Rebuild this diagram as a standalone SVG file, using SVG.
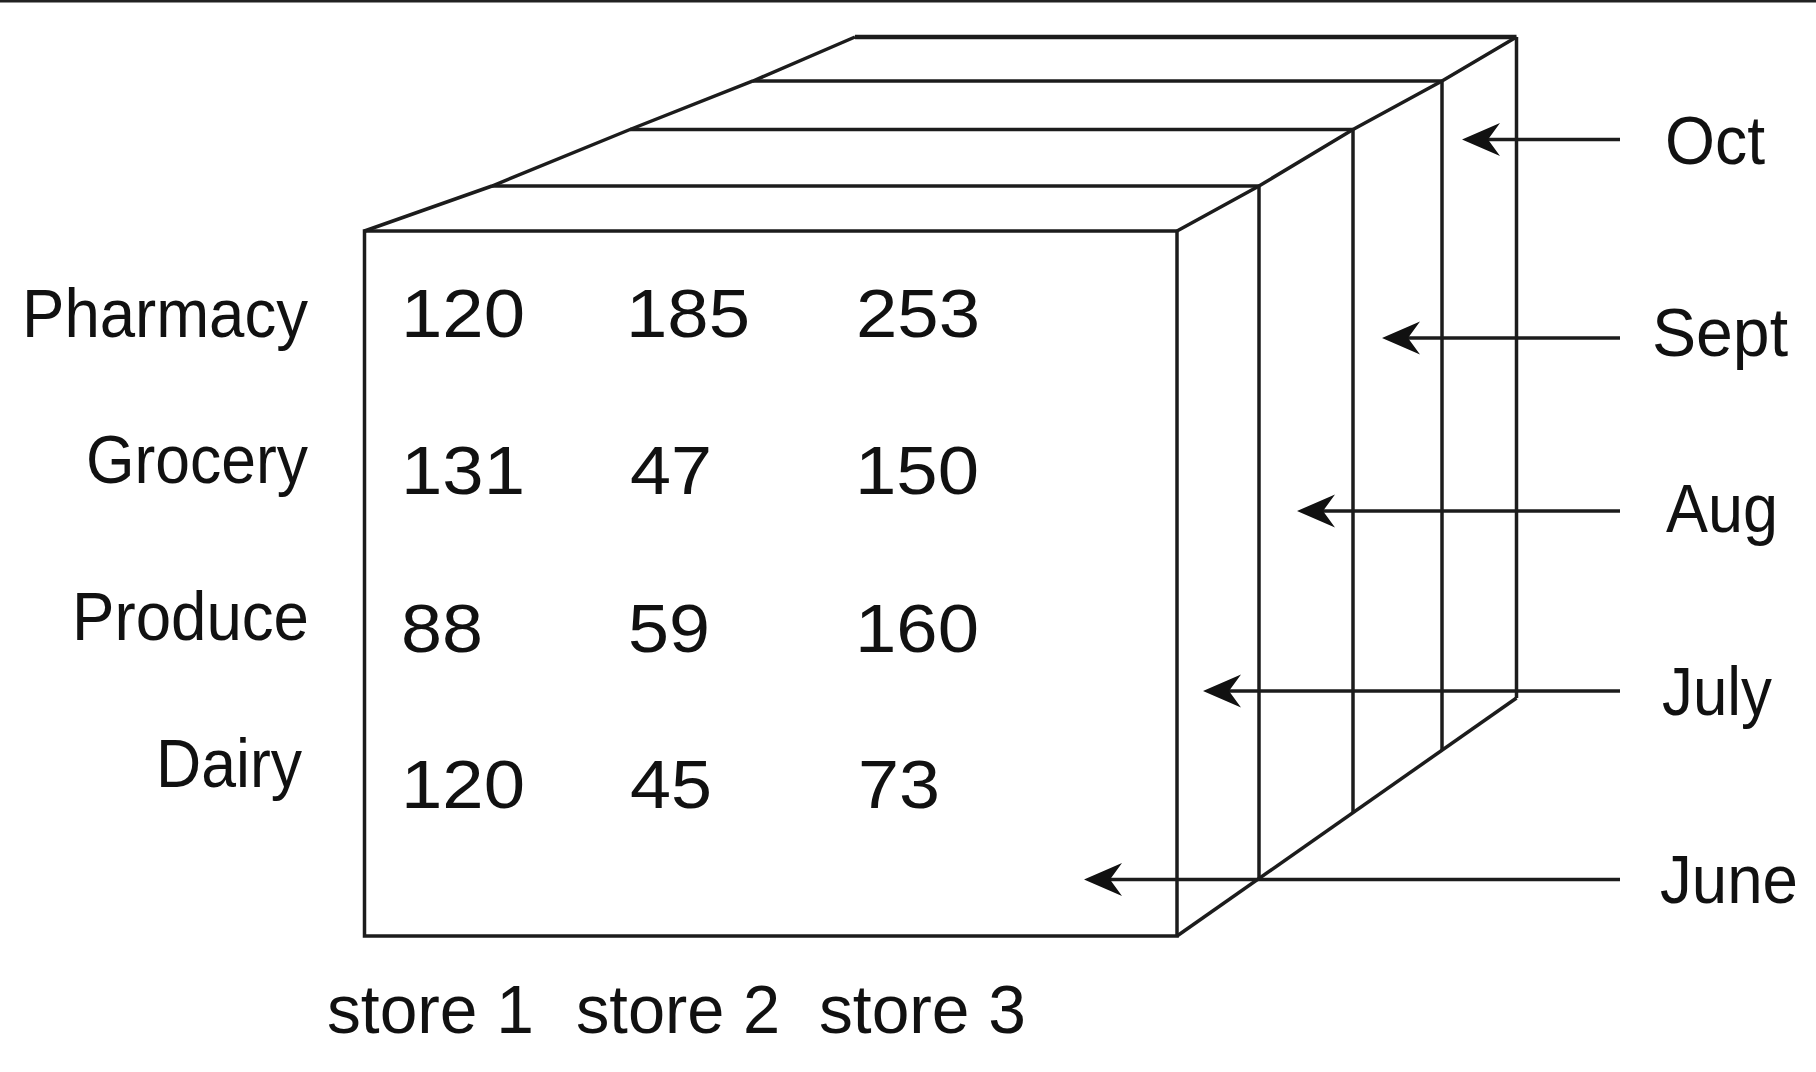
<svg xmlns="http://www.w3.org/2000/svg" width="1816" height="1072" viewBox="0 0 1816 1072">
  <style>
    .edge { fill: none; stroke: #1c1c1c; stroke-width: 3.5; stroke-linejoin: miter; }
    .thick { stroke-width: 4.5; }
    .arrow { fill: none; stroke: #1c1c1c; stroke-width: 3.5; marker-end: url(#head); }
    text { font-family: "Liberation Sans", Arial, sans-serif; font-size: 68px; fill: #111; }
  </style>
  <defs>
    <marker id="head" markerUnits="userSpaceOnUse" orient="auto" refX="0" refY="0" markerWidth="60" markerHeight="40" overflow="visible">
      <path d="M26,0 L-12,-16.5 L0,0 L-12,16.5 Z" fill="#111"/>
    </marker>
  </defs>
  <rect x="0" y="0" width="1816" height="2.5" fill="#222"/>

  <g id="cube">
    <!-- front face -->
    <rect class="edge" x="364.5" y="231" width="812.5" height="705"/>
    <!-- top slices -->
    <polyline class="edge" points="364.5,231 492,186 630,129.5 753,81 855,37"/>
    <line class="edge thick" x1="855" y1="37" x2="1516.5" y2="37"/>
    <line class="edge" x1="753" y1="81" x2="1442" y2="81"/>
    <line class="edge" x1="630" y1="129.5" x2="1353" y2="129.5"/>
    <line class="edge" x1="492" y1="186" x2="1259" y2="186"/>
    <!-- right side -->
    <polyline class="edge" points="1177,231 1259,186 1353,129.5 1442,81 1516.5,37"/>
    <line class="edge" x1="1259" y1="186" x2="1259" y2="879"/>
    <line class="edge" x1="1353" y1="129.5" x2="1353" y2="812"/>
    <line class="edge" x1="1442" y1="81" x2="1442" y2="750"/>
    <line class="edge" x1="1516.5" y1="37" x2="1516.5" y2="698"/>
    <line class="edge" x1="1177" y1="936" x2="1516.5" y2="698"/>
  </g>

  <g id="row-labels">
    <text id="lbl-pharmacy" x="22" y="337" textLength="286" lengthAdjust="spacingAndGlyphs">Pharmacy</text>
    <text id="lbl-grocery" x="86" y="483" textLength="222" lengthAdjust="spacingAndGlyphs">Grocery</text>
    <text id="lbl-produce" x="72" y="640" textLength="237" lengthAdjust="spacingAndGlyphs">Produce</text>
    <text id="lbl-dairy" x="156" y="787" textLength="146" lengthAdjust="spacingAndGlyphs">Dairy</text>
  </g>

  <g id="values">
    <text x="401" y="337" textLength="124" lengthAdjust="spacingAndGlyphs">120</text>
    <text x="626" y="337" textLength="124" lengthAdjust="spacingAndGlyphs">185</text>
    <text x="856" y="337" textLength="124" lengthAdjust="spacingAndGlyphs">253</text>
    <text x="401" y="494" textLength="124" lengthAdjust="spacingAndGlyphs">131</text>
    <text x="630" y="494" textLength="82" lengthAdjust="spacingAndGlyphs">47</text>
    <text x="855" y="494" textLength="124" lengthAdjust="spacingAndGlyphs">150</text>
    <text x="401" y="652" textLength="82" lengthAdjust="spacingAndGlyphs">88</text>
    <text x="628" y="652" textLength="82" lengthAdjust="spacingAndGlyphs">59</text>
    <text x="855" y="652" textLength="124" lengthAdjust="spacingAndGlyphs">160</text>
    <text x="401" y="808" textLength="124" lengthAdjust="spacingAndGlyphs">120</text>
    <text x="630" y="808" textLength="82" lengthAdjust="spacingAndGlyphs">45</text>
    <text x="858" y="808" textLength="82" lengthAdjust="spacingAndGlyphs">73</text>
  </g>

  <g id="store-labels">
    <text id="lbl-store1" x="327" y="1033" textLength="207" lengthAdjust="spacingAndGlyphs">store 1</text>
    <text id="lbl-store2" x="576" y="1033" textLength="204" lengthAdjust="spacingAndGlyphs">store 2</text>
    <text id="lbl-store3" x="819" y="1033" textLength="207" lengthAdjust="spacingAndGlyphs">store 3</text>
  </g>

  <g id="month-labels">
    <text id="lbl-oct" x="1665" y="163.5" textLength="100" lengthAdjust="spacingAndGlyphs">Oct</text>
    <text id="lbl-sept" x="1652" y="356" textLength="136" lengthAdjust="spacingAndGlyphs">Sept</text>
    <text id="lbl-aug" x="1666" y="532" textLength="112" lengthAdjust="spacingAndGlyphs">Aug</text>
    <text id="lbl-july" x="1662" y="715" textLength="110" lengthAdjust="spacingAndGlyphs">July</text>
    <text id="lbl-june" x="1660" y="903" textLength="138" lengthAdjust="spacingAndGlyphs">June</text>
  </g>

  <g id="connectors">
    <line class="arrow" x1="1620" y1="139.5" x2="1488" y2="139.5"/>
    <line class="arrow" x1="1620" y1="338" x2="1408" y2="338"/>
    <line class="arrow" x1="1620" y1="511" x2="1323" y2="511"/>
    <line class="arrow" x1="1620" y1="691" x2="1229" y2="691"/>
    <line class="arrow" x1="1620" y1="879.5" x2="1110" y2="879.5"/>
  </g>
</svg>
